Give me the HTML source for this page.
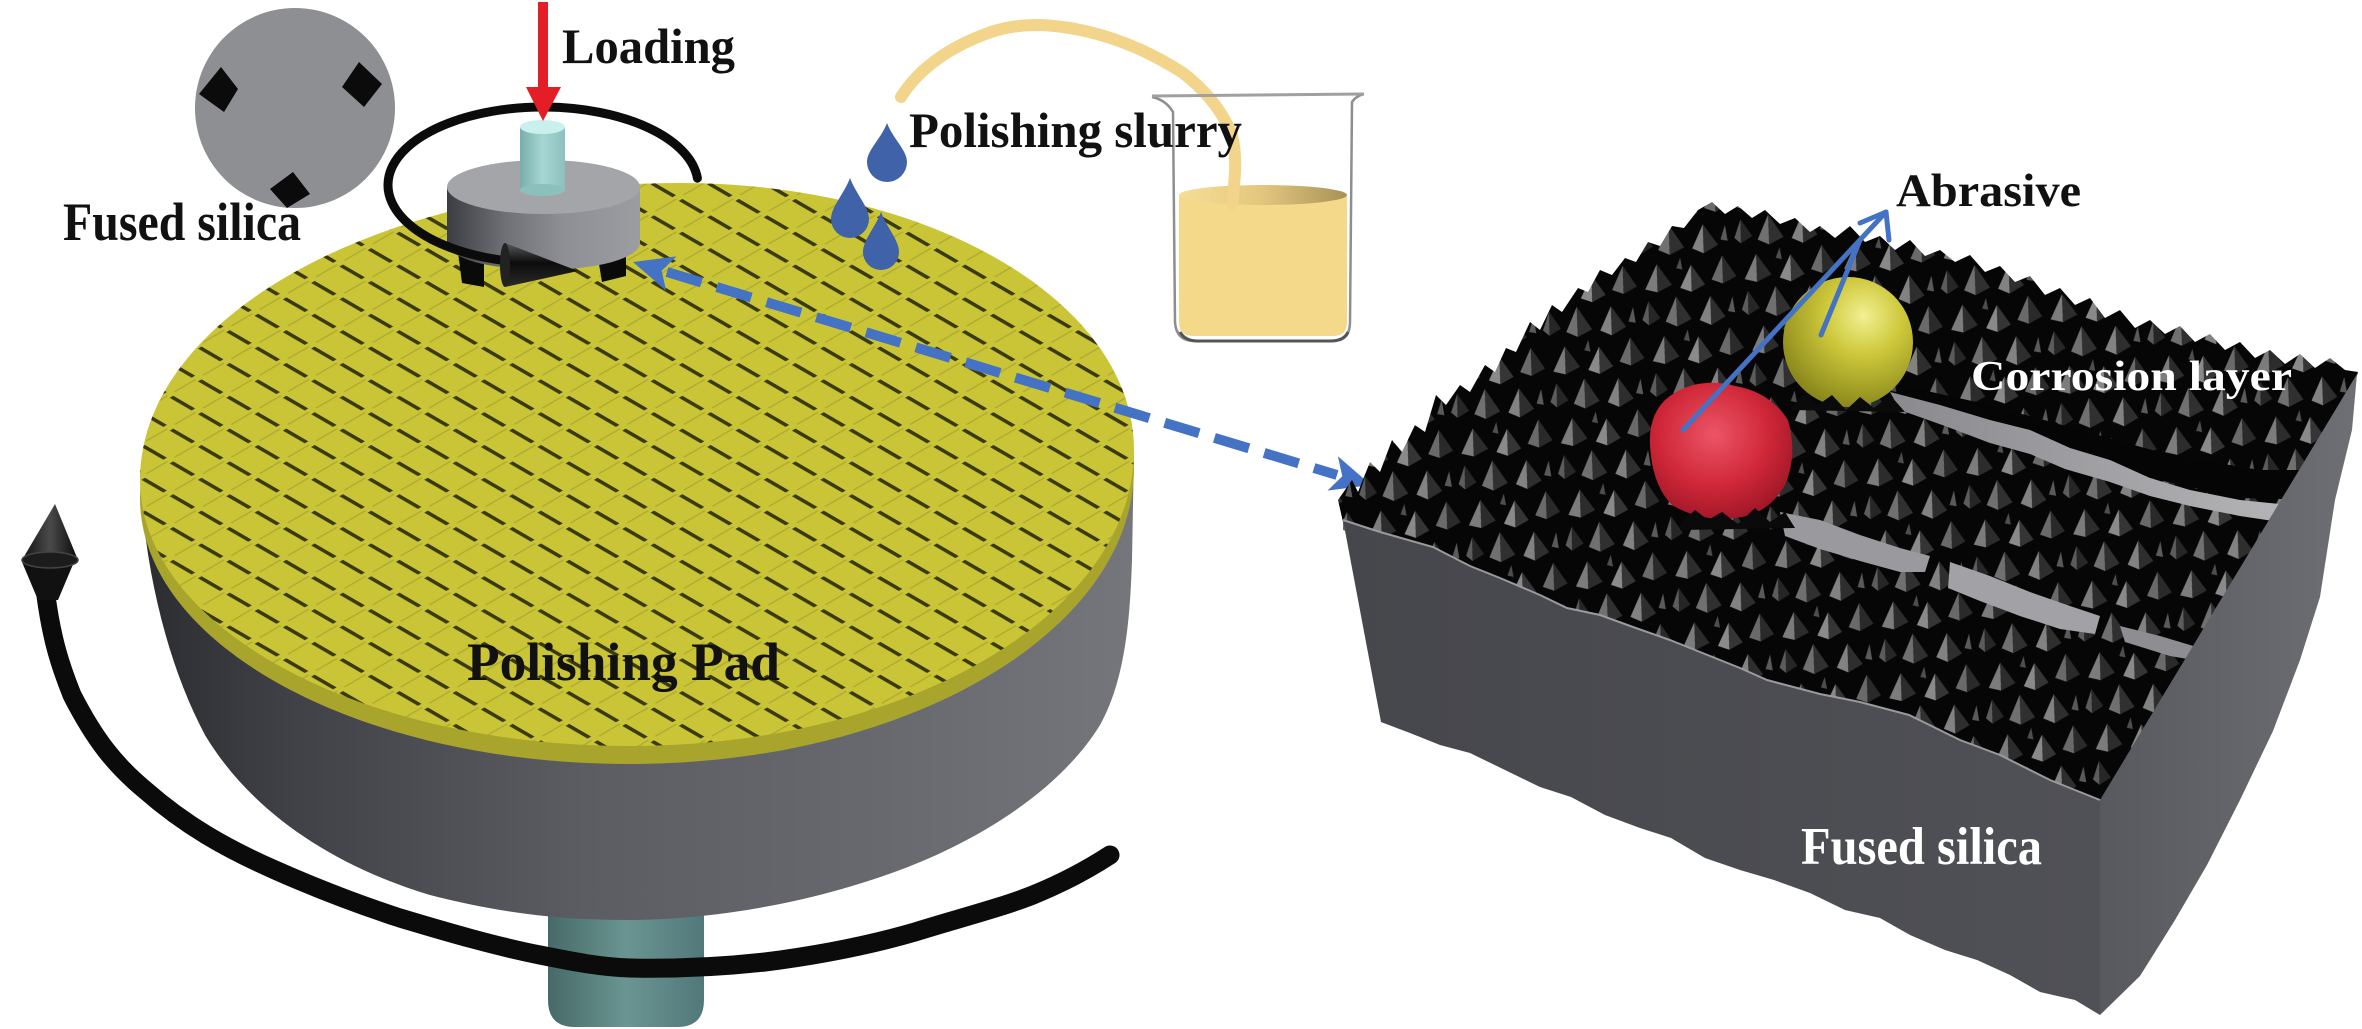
<!DOCTYPE html>
<html>
<head>
<meta charset="utf-8">
<style>
html,body{margin:0;padding:0;background:#ffffff;}
svg{display:block;}
</style>
</head>
<body>
<svg width="2362" height="1029" viewBox="0 0 2362 1029" xmlns="http://www.w3.org/2000/svg">
<defs>
  <linearGradient id="cyl" x1="140" y1="0" x2="1134" y2="0" gradientUnits="userSpaceOnUse">
    <stop offset="0" stop-color="#2b2c30"/>
    <stop offset="0.15" stop-color="#404146"/>
    <stop offset="0.45" stop-color="#5c5d63"/>
    <stop offset="0.75" stop-color="#68696f"/>
    <stop offset="1" stop-color="#75767c"/>
  </linearGradient>
  <pattern id="grid" width="40" height="40" patternUnits="userSpaceOnUse" patternTransform="scale(1,0.58) rotate(45)">
    <rect width="40" height="40" fill="#c9c537"/>
    <rect x="5" y="0" width="31" height="5" fill="#3a390f"/>
    <rect x="0" y="4" width="2" height="30" fill="#b0ab31"/>
  </pattern>
  <linearGradient id="holder" x1="447" y1="0" x2="640" y2="0" gradientUnits="userSpaceOnUse">
    <stop offset="0" stop-color="#3c3d42"/>
    <stop offset="0.3" stop-color="#6f7075"/>
    <stop offset="0.6" stop-color="#8e8f94"/>
    <stop offset="1" stop-color="#9c9da1"/>
  </linearGradient>
  <linearGradient id="spindle" x1="520" y1="0" x2="565" y2="0" gradientUnits="userSpaceOnUse">
    <stop offset="0" stop-color="#78aeab"/>
    <stop offset="0.5" stop-color="#a6d6d3"/>
    <stop offset="1" stop-color="#8cc0bd"/>
  </linearGradient>
  <linearGradient id="shaft" x1="548" y1="0" x2="704" y2="0" gradientUnits="userSpaceOnUse">
    <stop offset="0" stop-color="#466a67"/>
    <stop offset="0.5" stop-color="#6a9592"/>
    <stop offset="1" stop-color="#52787a"/>
  </linearGradient>
  <linearGradient id="cone" x1="0" y1="0" x2="0" y2="1">
    <stop offset="0" stop-color="#5a5a5a"/>
    <stop offset="0.45" stop-color="#0c0c0c"/>
    <stop offset="1" stop-color="#2a2a2a"/>
  </linearGradient>
  <linearGradient id="cone2" x1="0" y1="0" x2="1" y2="0">
    <stop offset="0" stop-color="#111"/>
    <stop offset="0.5" stop-color="#4a4a4a"/>
    <stop offset="1" stop-color="#0a0a0a"/>
  </linearGradient>
  <linearGradient id="liqtop" x1="1179" y1="0" x2="1347" y2="0" gradientUnits="userSpaceOnUse">
    <stop offset="0" stop-color="#f7de96"/>
    <stop offset="0.5" stop-color="#e2c67e"/>
    <stop offset="1" stop-color="#a89258"/>
  </linearGradient>
  <linearGradient id="rface" x1="2100" y1="0" x2="2357" y2="0" gradientUnits="userSpaceOnUse">
    <stop offset="0" stop-color="#58595f"/>
    <stop offset="1" stop-color="#6e6f75"/>
  </linearGradient>
  <linearGradient id="fface" x1="1343" y1="0" x2="2100" y2="0" gradientUnits="userSpaceOnUse">
    <stop offset="0" stop-color="#46474c"/>
    <stop offset="1" stop-color="#505156"/>
  </linearGradient>
  <radialGradient id="yball" cx="0.62" cy="0.3" r="0.75">
    <stop offset="0" stop-color="#f2f092"/>
    <stop offset="0.4" stop-color="#cdc83a"/>
    <stop offset="1" stop-color="#85821a"/>
  </radialGradient>
  <radialGradient id="rball" cx="0.45" cy="0.38" r="0.7">
    <stop offset="0" stop-color="#ec5566"/>
    <stop offset="0.55" stop-color="#cf2738"/>
    <stop offset="1" stop-color="#951424"/>
  </radialGradient>
  <linearGradient id="chan" x1="0" y1="0" x2="1" y2="0">
    <stop offset="0" stop-color="#8a8a8e"/>
    <stop offset="1" stop-color="#b8b8bb"/>
  </linearGradient>
  <pattern id="rough" width="100" height="72" patternUnits="userSpaceOnUse" patternTransform="rotate(-6)">
    <rect width="100" height="72" fill="#060606"/>
    <polygon points="20,4 6,28 18,32" fill="#7c7c7c"/>
    <polygon points="20,4 18,32 33,26" fill="#2c2c2c"/>
    <polygon points="54,8 41,30 52,35" fill="#8a8a8a"/>
    <polygon points="54,8 52,35 66,29" fill="#353535"/>
    <polygon points="86,2 73,25 84,30" fill="#6a6a6a"/>
    <polygon points="86,2 84,30 98,24" fill="#2a2a2a"/>
    <polygon points="36,38 23,62 34,68" fill="#707070"/>
    <polygon points="36,38 34,68 49,62" fill="#303030"/>
    <polygon points="70,41 57,64 68,70" fill="#828282"/>
    <polygon points="70,41 68,70 83,63" fill="#2e2e2e"/>
    <polygon points="8,40 0,58 6,64" fill="#5c5c5c"/>
    <polygon points="8,40 6,64 18,58" fill="#262626"/>
    <polygon points="92,44 86,58 93,60" fill="#5a5a5a"/>
    <polygon points="44,0 39,10 45,12" fill="#4e4e4e"/>
  </pattern>
</defs>

<!-- shaft -->
<path d="M548,870 L548,1000 Q548,1027 575,1027 L677,1027 Q704,1027 704,1000 L704,870 Z" fill="url(#shaft)"/>

<!-- cylinder side -->
<path d="M140,470 C143,560 165,660 205,735 C250,810 330,865 430,895 C500,913 560,920 627,920 C720,920 820,900 900,870 C980,840 1060,790 1100,725 C1125,680 1130,620 1132,560 L1134,450 Z" fill="url(#cyl)"/>

<!-- pad rim -->
<path transform="translate(0,18)" d="M140,480 C140,316 382,183 680,183 C931,183 1134,302 1134,450 C1134,613 908,746 630,746 C359,746 140,627 140,480 Z" fill="#a9a42b"/>
<!-- pad top -->
<path d="M140,480 C140,316 382,183 680,183 C931,183 1134,302 1134,450 C1134,613 908,746 630,746 C359,746 140,627 140,480 Z" fill="url(#grid)"/>

<text x="467" y="680" font-family="Liberation Serif, serif" font-weight="bold" font-size="54" textLength="313" lengthAdjust="spacingAndGlyphs" fill="#111">Polishing Pad</text>

<!-- big rotation arrow -->
<path d="M46,596 C52,640 60,665 72,695 C95,740 115,765 145,790 C185,825 225,848 275,870 C320,890 360,905 400,918 C450,933 495,946 540,955 C575,962 600,967 630,968 C680,969 720,967 765,962 C820,955 870,945 915,932 C960,918 1000,908 1033,895 C1065,882 1090,868 1110,855" fill="none" stroke="#0b0b0b" stroke-width="19" stroke-linecap="round"/>
<polygon points="22,562 74,562 58,600 38,600" fill="#111"/>
<polygon points="55,504 78,560 22,560" fill="url(#cone2)"/>
<ellipse cx="50" cy="560" rx="28" ry="8" fill="#1c1c1c" stroke="#444" stroke-width="1.5"/>

<!-- holder -->
<polygon points="458,252 484,258 484,287 462,283" fill="#0a0a0a"/>
<polygon points="598,258 626,252 626,276 602,282" fill="#0a0a0a"/>
<path d="M447,187 L447,243 A96.5,27 0 0 0 640,243 L640,187 Z" fill="url(#holder)"/>
<ellipse cx="543.5" cy="187" rx="96.5" ry="27" fill="#a4a5a9"/>
<rect x="520" y="127" width="45" height="63" fill="url(#spindle)"/>
<ellipse cx="542.5" cy="190" rx="22.5" ry="6" fill="#8cc0bd"/>
<ellipse cx="542.5" cy="127" rx="22.5" ry="7" fill="#c9f0ed"/>

<!-- small rotation arrow -->
<path d="M697.4,178.2 A155,78 0 1 0 508.1,261" fill="none" stroke="#0b0b0b" stroke-width="9" stroke-linecap="round"/>
<polygon points="505,243 578,271 505,287" fill="url(#cone)"/>
<ellipse cx="505" cy="265" rx="5" ry="22" fill="#222"/>

<!-- loading arrow -->
<rect x="538" y="2" width="10" height="87" fill="#e31e26"/>
<polygon points="526,87 561,87 543,121" fill="#e31e26"/>
<text x="562" y="63" font-family="Liberation Serif, serif" font-weight="bold" font-size="50" textLength="173" lengthAdjust="spacingAndGlyphs" fill="#111">Loading</text>

<!-- fused silica disc -->
<circle cx="295" cy="108" r="100" fill="#8e8f93"/>
<polygon points="221,67 238,89 224,112 199,94" fill="#0b0b0b"/>
<polygon points="359,62 382,84 364,107 342,87" fill="#0b0b0b"/>
<polygon points="293,172 310,194 287,208 270,189" fill="#0b0b0b"/>
<text x="63" y="240" font-family="Liberation Serif, serif" font-weight="bold" font-size="54" textLength="238" lengthAdjust="spacingAndGlyphs" fill="#111">Fused silica</text>

<!-- drops -->
<path d="M887,123 C893,139 907,150 907,162 A20,20 0 0 1 867,162 C867,150 881,139 887,123 Z" fill="#3f62a8"/>
<path d="M850,178 C856,194 869,207 869,219 A19,19 0 0 1 831,219 C831,207 844,194 850,178 Z" fill="#3f62a8"/>
<path d="M881,212 C887,228 899,240 899,252 A18,18 0 0 1 863,252 C863,240 875,228 881,212 Z" fill="#3f62a8"/>

<!-- beaker -->
<path d="M1179,195 L1179,322 Q1179,336 1193,336 L1333,336 Q1347,336 1347,322 L1347,195 Z" fill="#f4d98a"/>
<ellipse cx="1263" cy="195" rx="84" ry="10" fill="url(#liqtop)"/>
<path d="M901,97 C915,75 940,50 991,32 C1010,26 1025,25 1040,25 C1090,27 1140,45 1183,73 C1205,90 1222,110 1232,135 C1238,160 1234,185 1232,205" fill="none" stroke="#f2d48a" stroke-width="12" stroke-linecap="round"/>
<path d="M1152,97 Q1166,100 1173,112 L1175,322 Q1176,341 1195,341 L1333,341 Q1350,341 1350,322 L1352,102 Q1356,96 1364,94" fill="none" stroke="#8e8e90" stroke-width="2.5"/>
<line x1="1152" y1="96" x2="1364" y2="94" stroke="#a0a0a2" stroke-width="3"/>
<path d="M1180,332 Q1185,341 1198,341 L1330,341 Q1344,341 1348,332" fill="none" stroke="#555" stroke-width="3"/>
<text x="909" y="147" font-family="Liberation Serif, serif" font-weight="bold" font-size="50" textLength="333" lengthAdjust="spacingAndGlyphs" fill="#111">Polishing slurry</text>

<!-- dashed arrow -->
<line x1="667" y1="272" x2="1337" y2="475" stroke="#4472c4" stroke-width="10" stroke-dasharray="36 16"/>
<polygon points="633,262 666.1,290.8 661.7,270.7 676.5,256.4" fill="#4472c4"/>
<polygon points="1371,485 1337.9,456.2 1342.3,476.3 1327.5,490.6" fill="#4472c4"/>

<!-- right block: top surface -->
<polygon fill="url(#rough)" points="1343,522 1338,500 1352,480 1358,492 1370,462 1380,472 1392,440 1402,452 1415,425 1425,432 1436,395 1446,405 1460,385 1470,392 1485,365 1495,372 1506,348 1516,352 1530,322 1540,330 1552,305 1562,312 1578,288 1588,292 1600,270 1612,275 1625,258 1636,262 1648,242 1660,246 1672,226 1684,228 1698,210 1712,202 1725,214 1738,206 1752,218 1765,210 1780,224 1795,218 1810,232 1820,226 1835,238 1850,226 1865,242 1880,236 1895,250 1910,240 1925,256 1940,250 1955,262 1970,255 1985,272 2000,266 2015,282 2030,276 2045,295 2060,288 2075,305 2090,298 2105,318 2120,310 2135,328 2150,320 2165,334 2180,326 2195,342 2210,334 2225,350 2240,342 2255,358 2270,350 2285,364 2300,354 2315,368 2330,358 2345,370 2358,372 2350,400 2330,440 2310,480 2280,530 2250,580 2220,630 2190,680 2160,730 2130,770 2100,800 2050,790 1909,725 1700,660 1500,588 1343,530"/>

<!-- dark valley band above channel 1 -->
<polygon fill="#050505" points="1900,385 1990,405 2080,430 2170,455 2260,470 2330,470 2320,500 2240,498 2150,478 2070,448 1990,420 1900,400"/>
<!-- channels -->
<polygon fill="url(#chan)" points="1890,392 1940,405 1990,420 2030,430 2070,448 2110,460 2150,478 2190,490 2240,500 2290,505 2320,500 2315,514 2280,522 2240,516 2190,506 2150,496 2110,482 2065,469 2030,454 1990,443 1945,426 1900,410"/>
<polygon fill="#9a9a9e" points="1780,512 1820,520 1860,535 1900,548 1930,556 1925,572 1900,572 1860,561 1820,549 1785,536"/>
<polygon fill="#a2a2a6" points="1950,562 1990,576 2030,592 2070,606 2100,616 2095,634 2060,629 2020,616 1980,601 1948,588"/>
<polygon fill="#8e8e92" points="2120,626 2160,636 2200,648 2205,662 2170,656 2125,642"/>

<!-- front face -->
<polygon fill="url(#fface)" points="1343,520 1380,532 1433,547 1470,566 1500,578 1540,595 1567,608 1600,615 1633,627 1670,640 1700,652 1740,668 1767,680 1820,694 1860,702 1909,715 1960,740 2000,755 2050,780 2100,800 2100,1015 2075,1000 2040,992 2010,975 1977,960 1945,950 1910,935 1880,918 1845,910 1810,893 1774,880 1740,870 1705,858 1671,838 1640,828 1605,815 1571,797 1540,787 1505,770 1470,753 1440,745 1410,733 1381,722"/>
<polyline fill="none" stroke="#9a9a9e" stroke-width="2" points="1343,520 1380,532 1433,547 1470,566 1500,578 1540,595 1567,608 1600,615 1633,627 1670,640 1700,652 1740,668 1767,680 1820,694 1860,702 1909,715 1960,740 2000,755 2050,780 2100,800"/>
<!-- right face -->
<polygon fill="url(#rface)" points="2100,800 2357,374 2352,430 2335,500 2320,597 2300,660 2273,731 2240,800 2207,865 2175,920 2140,976 2100,1015"/>

<!-- balls -->
<circle cx="1848" cy="342" r="65" fill="url(#yball)"/>
<polygon fill="#0a0a0a" points="1790,410 1805,392 1818,405 1832,395 1846,410 1860,397 1874,408 1890,395 1905,412"/>
<path d="M1650,445 Q1648,405 1680,390 Q1705,378 1735,386 Q1770,392 1788,420 Q1798,455 1785,485 Q1768,515 1735,518 Q1700,522 1672,505 Q1652,485 1650,445 Z" fill="url(#rball)"/>
<polygon fill="#0a0a0a" points="1680,524 1695,510 1708,520 1722,512 1738,524 1755,508 1770,522 1785,512 1795,528 1680,530"/>

<!-- blue arrow -->
<g stroke="#4472c4" stroke-width="5" stroke-linecap="round" fill="none">
  <line x1="1683" y1="430" x2="1886" y2="212"/>
  <line x1="1821" y1="335" x2="1860" y2="240"/>
  <line x1="1886" y1="212" x2="1860" y2="223"/>
  <line x1="1886" y1="212" x2="1889" y2="240"/>
</g>

<!-- labels -->
<text x="1896" y="206" font-family="Liberation Serif, serif" font-weight="bold" font-size="47" textLength="185" lengthAdjust="spacingAndGlyphs" fill="#111">Abrasive</text>
<text x="1971" y="390" font-family="Liberation Serif, serif" font-weight="bold" font-size="42" textLength="321" lengthAdjust="spacingAndGlyphs" fill="#ffffff">Corrosion layer</text>
<text x="1801" y="864" font-family="Liberation Serif, serif" font-weight="bold" font-size="53" textLength="241" lengthAdjust="spacingAndGlyphs" fill="#ffffff">Fused silica</text>
</svg>
</body>
</html>
